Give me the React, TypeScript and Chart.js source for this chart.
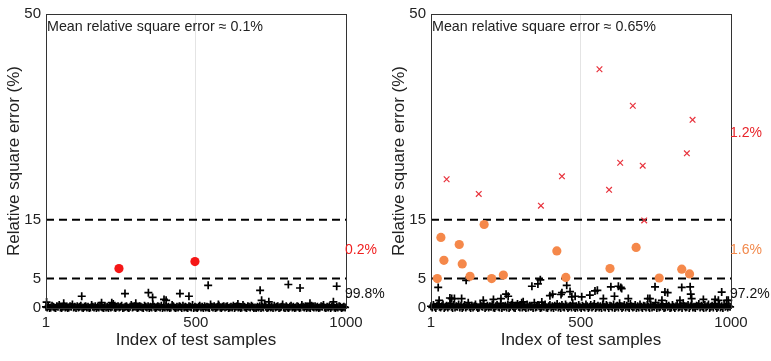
import React, { useEffect, useRef } from "react";
import { Chart, registerables } from "chart.js";

Chart.register(...registerables);

const FONT = "'Liberation Sans', Arial, Helvetica, sans-serif";
const TEXT = "#222";

// Shared axis setup
const xTicks = [1, 500, 1000];
const yTicks = [0, 5, 15, 50];
const thresholdLow = 5;
const thresholdHigh = 15;
const FLOOR_STEP = 4; // floor samples are listed every 4th index

// ---------- Panel (a) ----------
const floorA = [
  0.2, 0.1, 0.3, 0.0, 0.1, 0.4, 0.2, 0.1, 0.0, 0.3, 0.2, 0.5, 0.1, 0.0, 0.2, 0.3, 0.1, 0.2, 0.0, 0.1, 0.3, 0.2, 0.6, 0.1, 0.2,
  0.0, 0.3, 0.1, 0.2, 0.4, 0.1, 0.0, 0.2, 0.3, 0.1, 0.2, 0.0, 0.1, 0.5, 0.2, 0.1, 0.3, 0.0, 0.2, 0.1, 0.4, 0.2, 0.1, 0.0, 0.3,
  0.1, 0.2, 0.0, 0.3, 0.1, 0.2, 0.7, 0.1, 0.0, 0.2, 0.3, 0.1, 0.2, 0.4, 0.0, 0.1, 0.2, 0.3, 0.1, 0.0, 0.2, 0.5, 0.1, 0.2, 0.3,
  0.2, 0.0, 0.1, 0.3, 0.2, 0.1, 0.0, 0.4, 0.2, 0.1, 0.3, 0.0, 0.2, 0.1, 0.6, 0.2, 0.0, 0.1, 0.3, 0.2, 0.1, 0.4, 0.0, 0.2, 0.1,
  0.3, 0.1, 0.2, 0.0, 0.1, 0.5, 0.3, 0.1, 0.0, 0.2, 0.1, 0.3, 0.2, 0.0, 0.4, 0.1, 0.2, 0.1, 0.0, 0.3, 0.2, 0.1, 0.5, 0.0, 0.2,
  0.1, 0.0, 0.2, 0.4, 0.1, 0.2, 0.0, 0.3, 0.1, 0.2, 0.1, 0.0, 0.6, 0.2, 0.1, 0.3, 0.0, 0.1, 0.2, 0.4, 0.1, 0.0, 0.2, 0.3, 0.1,
  0.2, 0.3, 0.0, 0.1, 0.2, 0.1, 0.4, 0.0, 0.2, 0.3, 0.1, 0.2, 0.0, 0.1, 0.5, 0.2, 0.1, 0.0, 0.3, 0.2, 0.1, 0.4, 0.2, 0.0, 0.1,
  0.0, 0.2, 0.1, 0.3, 0.0, 0.2, 0.1, 0.5, 0.2, 0.0, 0.1, 0.3, 0.1, 0.2, 0.0, 0.4, 0.1, 0.2, 0.3, 0.0, 0.1, 0.2, 0.6, 0.1, 0.0,
  0.3, 0.1, 0.0, 0.2, 0.4, 0.1, 0.2, 0.0, 0.1, 0.3, 0.2, 0.0, 0.1, 0.5, 0.2, 0.1, 0.3, 0.0, 0.2, 0.1, 0.0, 0.4, 0.2, 0.1, 0.3,
  0.1, 0.2, 0.0, 0.1, 0.3, 0.2, 0.5, 0.1, 0.0, 0.2, 0.1, 0.3, 0.0, 0.2, 0.4, 0.1, 0.0, 0.2, 0.1, 0.3, 0.2, 0.0, 0.1, 0.2, 0.1,
];
const spikeIdxA = [3, 60, 120, 186, 220, 264, 300, 342, 356, 394, 401, 447, 477, 541, 575, 640, 714, 719, 743, 808, 847, 880, 958, 969];
const spikeValA = [1.0, 0.8, 2.0, 0.9, 0.9, 2.45, 0.8, 2.6, 1.8, 1.45, 1.3, 2.45, 2.0, 3.85, 0.6, 0.7, 3.0, 1.3, 1.05, 4.0, 3.4, 0.8, 1.05, 3.7];
const redIdxA = [244, 497];
const redValA = [6.7, 7.9];

// ---------- Panel (b) ----------
const floorB = [
  0.3, 0.1, 0.5, 0.2, 0.0, 0.4, 0.7, 0.2, 0.1, 0.3, 0.6, 0.0, 0.2, 0.4, 0.1, 0.3, 0.8, 0.2, 0.0, 0.5, 0.1, 0.3, 0.2, 0.6, 0.1,
  0.4, 0.0, 0.2, 0.5, 0.1, 0.3, 0.9, 0.2, 0.0, 0.4, 0.1, 0.3, 0.6, 0.2, 0.0, 0.1, 0.5, 0.3, 0.2, 0.7, 0.0, 0.2, 0.4, 0.1, 0.3,
  0.2, 0.6, 0.1, 0.0, 0.3, 0.5, 0.2, 0.1, 0.8, 0.0, 0.3, 0.2, 0.4, 0.1, 0.6, 0.0, 0.2, 0.5, 0.3, 0.1, 0.0, 0.4, 0.7, 0.2, 0.1,
  0.5, 0.1, 0.3, 0.2, 0.0, 0.6, 0.1, 0.4, 0.2, 0.3, 0.0, 0.9, 0.1, 0.2, 0.5, 0.3, 0.0, 0.1, 0.4, 0.2, 0.6, 0.1, 0.0, 0.3, 0.5,
  0.1, 0.3, 0.0, 0.4, 0.2, 0.7, 0.1, 0.3, 0.0, 0.5, 0.2, 0.1, 0.6, 0.3, 0.0, 0.2, 0.4, 0.1, 0.8, 0.2, 0.0, 0.3, 0.1, 0.5, 0.2,
  0.0, 0.4, 0.2, 0.1, 0.6, 0.3, 0.0, 0.2, 0.5, 0.1, 0.3, 0.7, 0.0, 0.2, 0.4, 0.1, 0.3, 0.0, 0.6, 0.2, 0.1, 0.5, 0.3, 0.0, 0.4,
  0.3, 0.1, 0.6, 0.0, 0.2, 0.4, 0.1, 0.8, 0.3, 0.0, 0.2, 0.5, 0.1, 0.4, 0.2, 0.0, 0.7, 0.3, 0.1, 0.2, 0.5, 0.0, 0.3, 0.1, 0.6,
  0.2, 0.0, 0.4, 0.3, 0.1, 0.5, 0.2, 0.0, 0.6, 0.1, 0.3, 0.2, 0.9, 0.0, 0.4, 0.1, 0.2, 0.5, 0.3, 0.0, 0.1, 0.7, 0.2, 0.4, 0.0,
  0.1, 0.5, 0.2, 0.0, 0.3, 0.6, 0.1, 0.2, 0.4, 0.0, 0.8, 0.3, 0.1, 0.2, 0.5, 0.0, 0.3, 0.6, 0.1, 0.2, 0.0, 0.4, 0.3, 0.7, 0.1,
  0.4, 0.2, 0.0, 0.5, 0.1, 0.3, 0.6, 0.0, 0.2, 0.4, 0.1, 0.7, 0.3, 0.0, 0.2, 0.5, 0.1, 0.3, 0.0, 0.6, 0.2, 0.4, 0.1, 0.3, 0.2,
];
const spikeIdxB = [
  25, 28, 64, 70, 79, 103, 118, 175, 209, 234, 251, 258, 272, 303, 308, 337, 357, 365, 370, 397, 406, 434, 437, 453, 464, 470, 481,
  503, 530, 547, 555, 575, 600, 612, 625, 633, 636, 658, 723, 730, 747, 770, 780, 789, 830, 836, 864, 866, 869, 908, 947, 958, 969, 986, 991,
];
const spikeValB = [
  3.5, 1.3, 1.7, 1.6, 1.6, 1.6, 4.7, 1.3, 1.45, 1.6, 2.35, 2.0, 0.9, 0.9, 1.05, 3.7, 4.1, 4.8, 1.0, 2.1, 2.35, 2.3, 2.6, 3.85, 2.8, 1.9, 2.0,
  1.9, 2.2, 2.9, 3.0, 1.6, 3.6, 2.0, 3.7, 3.5, 3.3, 1.6, 1.6, 1.6, 3.6, 1.3, 2.7, 2.6, 1.3, 3.5, 3.6, 2.35, 1.6, 1.45, 1.45, 1.3, 2.7, 1.3, 1.3,
];
const orangeIdxB = [22, 34, 44, 95, 105, 131, 178, 203, 242, 420, 450, 597, 684, 761, 836, 862];
const orangeValB = [5.0, 12.0, 8.1, 10.8, 7.5, 5.4, 14.2, 5.0, 5.6, 9.7, 5.2, 6.7, 10.3, 5.1, 6.6, 5.8];
const crossIdxB = [53, 160, 367, 437, 562, 594, 631, 673, 706, 711, 853, 872];
const crossValB = [21.9, 19.4, 17.4, 22.4, 40.6, 20.1, 24.7, 34.4, 24.2, 14.9, 26.3, 32.0];

type Pt = { x: number; y: number };
const zip = (xs: number[], ys: number[]): Pt[] => xs.map((x, i) => ({ x, y: ys[i] }));
const floorPoints = (vals: number[]): Pt[] => vals.map((y, k) => ({ x: 1 + k * FLOOR_STEP, y }));

type SideLabel = { text: string; value: number; color: string };
type PanelSpec = {
  mean: string;
  marks: any[];
  sideLabels: SideLabel[];
  rightPad: number;
};

const plusSet = (pts: Pt[]) => ({
  data: pts,
  pointStyle: "cross",
  pointRadius: 4,
  pointBorderWidth: 1.7,
  borderColor: "#000",
  backgroundColor: "#000",
  clip: false,
  order: 4,
});

const dashed = (level: number) => ({
  data: [
    { x: 1, y: level },
    { x: 1000, y: level },
  ],
  showLine: true,
  borderColor: "#000",
  borderWidth: 2,
  borderDash: [8, 5],
  pointRadius: 0,
  order: 5,
});

const panelA: PanelSpec = {
  mean: "Mean relative square error \u2248 0.1%",
  marks: [
    plusSet([...floorPoints(floorA), ...zip(spikeIdxA, spikeValA)]),
    {
      data: zip(redIdxA, redValA),
      pointStyle: "circle",
      pointRadius: 4.6,
      pointBorderWidth: 0,
      backgroundColor: "#f51616",
      borderColor: "#f51616",
      order: 1,
    },
  ],
  sideLabels: [
    { text: "0.2%", value: 9.9, color: "#f02020" },
    { text: "99.8%", value: 2.3, color: "#111" },
  ],
  rightPad: 39,
};

const panelB: PanelSpec = {
  mean: "Mean relative square error \u2248 0.65%",
  marks: [
    plusSet([...floorPoints(floorB), ...zip(spikeIdxB, spikeValB)]),
    {
      data: zip(orangeIdxB, orangeValB),
      pointStyle: "circle",
      pointRadius: 4.6,
      pointBorderWidth: 0,
      backgroundColor: "#f5884a",
      borderColor: "#f5884a",
      order: 1,
    },
    {
      data: zip(crossIdxB, crossValB),
      pointStyle: "crossRot",
      pointRadius: 4,
      pointBorderWidth: 1.2,
      borderColor: "#e8323c",
      backgroundColor: "#e8323c",
      order: 2,
    },
  ],
  sideLabels: [
    { text: "1.2%", value: 29.8, color: "#e8242a" },
    { text: "1.6%", value: 9.9, color: "#f28a4d" },
    { text: "97.2%", value: 2.3, color: "#111" },
  ],
  rightPad: 40,
};

const decorPlugin = {
  id: "decor",
  afterDraw(chart: any, _args: any, opts: any) {
    const { ctx, chartArea, scales } = chart;
    ctx.save();
    // box around the plot area
    ctx.strokeStyle = "#333";
    ctx.lineWidth = 1;
    ctx.strokeRect(
      Math.round(chartArea.left) + 0.5,
      Math.round(chartArea.top) + 0.5,
      Math.round(chartArea.right - chartArea.left),
      Math.round(chartArea.bottom - chartArea.top)
    );
    // mean annotation
    ctx.fillStyle = TEXT;
    ctx.font = `14.3px ${FONT}`;
    ctx.textAlign = "left";
    ctx.textBaseline = "middle";
    ctx.fillText(opts.mean, chartArea.left + 1, chartArea.top + 13);
    // share labels beside the plot
    ctx.font = `14px ${FONT}`;
    for (const l of opts.sideLabels as SideLabel[]) {
      ctx.fillStyle = l.color;
      ctx.fillText(l.text, chartArea.right - 1, scales.y.getPixelForValue(l.value));
    }
    ctx.restore();
  },
};

function buildConfig(spec: PanelSpec): any {
  return {
    type: "scatter",
    data: {
      datasets: [...spec.marks, dashed(thresholdLow), dashed(thresholdHigh)],
    },
    plugins: [decorPlugin],
    options: {
      animation: false,
      responsive: true,
      maintainAspectRatio: false,
      layout: { padding: { top: 9, right: spec.rightPad, left: 0, bottom: 0 } },
      plugins: {
        legend: { display: false },
        tooltip: { enabled: false },
        decor: { mean: spec.mean, sideLabels: spec.sideLabels },
      },
      scales: {
        x: {
          type: "linear",
          min: 1,
          max: 1000,
          afterBuildTicks: (s: any) => {
            s.ticks = xTicks.map((v) => ({ value: v }));
          },
          afterFit: (s: any) => {
            s.height = 53;
          },
          grid: {
            color: (c: any) => (c.tick && c.tick.value === 500 ? "#e4e4e4" : "rgba(0,0,0,0)"),
            drawTicks: false,
          },
          border: { display: true, color: "#333", width: 1 },
          ticks: {
            font: { family: FONT, size: 15 },
            color: TEXT,
            padding: 6,
            maxRotation: 0,
            autoSkip: false,
            callback: (v: any) => String(v),
          },
          title: {
            display: true,
            text: "Index of test samples",
            font: { family: FONT, size: 17 },
            color: TEXT,
            padding: { top: 0, bottom: 10 },
          },
        },
        y: {
          type: "linear",
          min: 0,
          max: 50,
          afterBuildTicks: (s: any) => {
            s.ticks = yTicks.map((v) => ({ value: v }));
          },
          afterFit: (s: any) => {
            s.width = 46;
          },
          grid: { display: false, drawTicks: false },
          border: { display: true, color: "#333", width: 1 },
          ticks: {
            font: { family: FONT, size: 15 },
            color: TEXT,
            padding: 5,
            autoSkip: false,
            callback: (v: any) => String(v),
          },
          title: {
            display: true,
            text: "Relative square error (%)",
            font: { family: FONT, size: 17 },
            color: TEXT,
            padding: { top: 4, bottom: 0 },
          },
        },
      },
    },
  };
}

function Panel({ spec, left, width }: { spec: PanelSpec; left: number; width: number }) {
  const ref = useRef<HTMLCanvasElement | null>(null);
  useEffect(() => {
    if (!ref.current) return;
    const chart = new Chart(ref.current, buildConfig(spec));
    return () => chart.destroy();
  }, [spec]);
  return (
    <div style={{ position: "absolute", left, top: 0, width, height: 361 }}>
      <canvas ref={ref} />
    </div>
  );
}

export default function App() {
  return (
    <div
      style={{
        position: "fixed",
        left: 0,
        top: 0,
        width: 771,
        height: 361,
        background: "#fff",
        overflow: "hidden",
      }}
    >
      <Panel spec={panelA} left={0} width={385} />
      <Panel spec={panelB} left={385} width={386} />
    </div>
  );
}
